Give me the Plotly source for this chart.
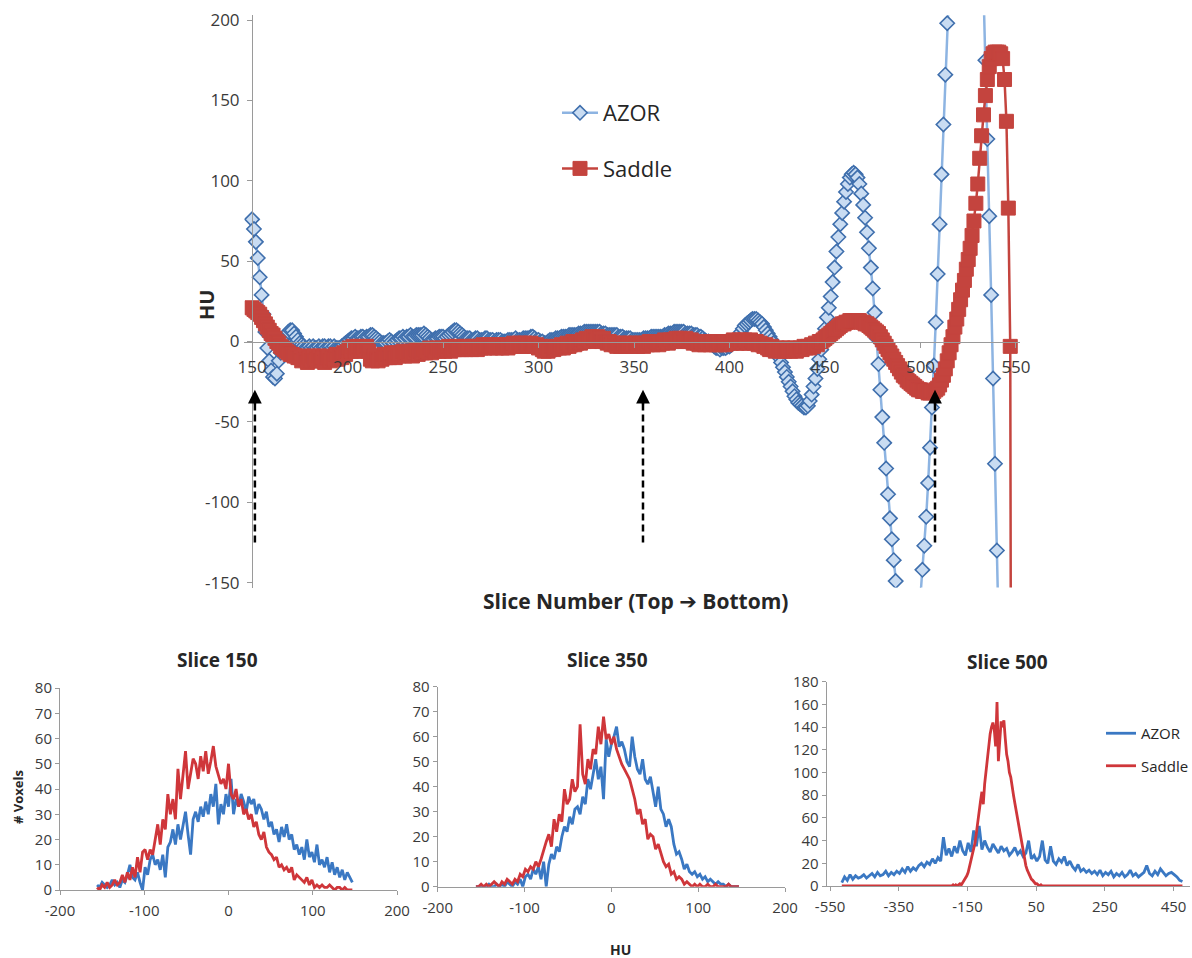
import plotly.graph_objects as go

# ---------------- data ----------------
# Mean HU per slice (slices 150..541 for AZOR, 150..548 for Saddle)
azor_start = 150
azor_hu = [
    76, 70, 62, 52, 40, 29, 17, 6, -4, -12,
    -18, -22, -23, -20, -12, -7, -3, 1, 4, 6,
    7, 7, 5, 3, 1, -1, -2, -3, -4, -4,
    -3, -4, -3, -4, -4, -3, -4, -3, -3, -4,
    -3, -3, -4, -3, -4, -4, -4, -3, -2, -1,
    0, 1, 2, 2, 3, 2, 2, 3, 3, 2,
    3, 3, 4, 4, 3, 2, 1, 0, -1, -1,
    -1, 0, 1, 0, -1, 0, 1, 2, 2, 3,
    2, 3, 3, 4, 3, 3, 4, 4, 4, 4,
    5, 4, 3, 2, 1, 1, 2, 2, 3, 3,
    3, 2, 3, 4, 5, 6, 7, 7, 6, 5,
    4, 3, 2, 2, 2, 1, 1, 2, 2, 1,
    1, 1, 2, 2, 1, 1, 1, 0, 1, 1,
    1, 0, 0, 0, 1, 1, 1, 1, 2, 1,
    1, 1, 2, 2, 2, 2, 3, 3, 2, 1,
    1, 0, 0, -1, -1, 0, 1, 1, 1, 2,
    2, 2, 3, 3, 3, 3, 4, 4, 4, 4,
    4, 5, 5, 5, 6, 6, 6, 6, 6, 6,
    6, 6, 6, 5, 5, 5, 4, 4, 4, 4,
    4, 4, 3, 3, 3, 2, 2, 2, 2, 1,
    1, 1, 1, 1, 1, 2, 2, 2, 2, 3,
    3, 3, 3, 3, 3, 3, 4, 4, 5, 5,
    5, 6, 6, 6, 6, 6, 6, 5, 5, 5,
    5, 4, 4, 4, 3, 3, 2, 1, 0, 0,
    -1, -2, -3, -4, -4, -5, -4, -4, -4, -3,
    -3, -2, -1, 0, 2, 4, 6, 8, 10, 11,
    12, 13, 14, 14, 14, 13, 12, 11, 9, 7,
    5, 3, 1, -1, -4, -7, -10, -13, -16, -19,
    -22, -25, -28, -31, -34, -36, -38, -39, -40, -41,
    -41, -40, -37, -33, -28, -23, -17, -11, -5, 2,
    8, 15, 21, 28, 37, 46, 56, 65, 73, 80,
    87, 93, 98, 102, 104, 105, 104, 102, 98, 92,
    85, 77, 68, 58, 46, 33, 18, 2, -14, -30,
    -47, -63, -79, -95, -110, -123, -136, -149, -162, -174,
    -185, -194, -201, -206, -209, -209, -206, -199, -188, -174,
    -158, -142, -127, -109, -88, -66, -41, -15, 12, 42,
    73, 104, 135, 166, 198, 228, 257, 284, 309, 331,
    350, 366, 378, 386, 390, 388, 382, 372, 358, 340,
    318, 292, 258, 219, 175, 126, 78, 29, -23, -76,
    -130, -184,
]
saddle_start = 150
saddle_hu = [
    21, 20, 19, 18, 17, 15, 13, 11, 9, 7,
    5, 4, 2, 0, -1, -3, -4, -5, -6, -7,
    -8, -8, -9, -9, -10, -10, -12, -9, -11, -13,
    -10, -12, -9, -12, -11, -9, -12, -10, -13, -10,
    -9, -12, -10, -11, -8, -11, -9, -10, -7, -8,
    -6, -4, -6, -3, -6, -4, -3, -6, -4, -5,
    -3, -6, -11, -12, -9, -11, -12, -9, -11, -8,
    -10, -8, -10, -7, -9, -10, -7, -9, -8, -6,
    -9, -7, -8, -6, -9, -7, -5, -8, -6, -7,
    -5, -7, -6, -4, -7, -5, -6, -4, -6, -5,
    -4, -6, -5, -3, -6, -4, -5, -3, -5, -4,
    -5, -3, -5, -4, -3, -5, -3, -4, -5, -3,
    -4, -2, -4, -3, -2, -4, -3, -2, -4, -3,
    -2, -4, -3, -2, -4, -2, -3, -1, -3, -2,
    -1, -3, -2, -1, -3, -2, -1, -2, -3, -2,
    -4, -3, -5, -6, -4, -6, -5, -3, -5, -4,
    -3, -4, -2, -4, -3, -1, -3, -2, 0, -2,
    -1, 0, -1, 1, 0, 2, 1, 0, 3, 2,
    1, 3, 2, 0, 2, 0, -1, 0, -2, -1,
    -2, -3, -1, -3, -2, -1, -3, -2, -1, -3,
    -2, -1, -3, -2, -1, -3, -1, -2, 0, -1,
    -2, 0, -1, -2, 0, -1, 1, 0, -1, 1,
    0, 1, 2, 0, 2, 1, 0, 2, 1, 0,
    1, -1, 0, -1, -2, 0, -1, -2, 0, -1,
    -2, 0, -1, -2, 0, -2, -1, 0, -2, -1,
    0, -1, 1, 0, -1, 1, 0, -1, 1, 0,
    -1, 1, 0, -1, 0, -2, -1, -2, -3, -2,
    -4, -5, -3, -5, -6, -4, -5, -6, -4, -6,
    -5, -4, -6, -5, -4, -6, -5, -4, -5, -3,
    -4, -3, -4, -2, -3, -1, -2, 0, 0, 1,
    2, 3, 4, 5, 6, 7, 8, 9, 10, 11,
    11, 12, 12, 13, 13, 13, 13, 13, 13, 12,
    12, 11, 11, 10, 9, 8, 7, 6, 5, 3,
    1, -1, -3, -5, -7, -9, -11, -13, -15, -17,
    -19, -21, -22, -24, -25, -26, -27, -28, -29, -30,
    -30, -31, -31, -31, -32, -32, -31, -31, -30, -29,
    -27, -24, -21, -17, -12, -7, -2, 3, 9, 14,
    20, 26, 32, 38, 45, 51, 58, 66, 75, 86,
    98, 114, 128, 141, 153, 163, 171, 176, 179, 180,
    180, 180, 179, 176, 163, 137, 83, -3, -600,
]
azor_slices = list(range(azor_start, azor_start + len(azor_hu)))
saddle_slices = list(range(saddle_start, saddle_start + len(saddle_hu)))

# Voxel histograms, slices 150 and 350 (HU bins of 3 starting at -156)
hist_bins = list(range(-156, 150, 3))
azor_150 = [
    2, 1, 3, 2, 1, 2, 4, 2, 3, 1,
    4, 3, 6, 10, 5, 4, 7, 3, 0, 9,
    6, 12, 14, 10, 12, 8, 14, 5, 17, 19,
    24, 18, 26, 20, 25, 31, 22, 14, 28, 31,
    27, 33, 29, 35, 30, 38, 33, 42, 26, 34,
    30, 38, 33, 44, 30, 36, 33, 38, 35, 31,
    37, 34, 36, 30, 34, 32, 28, 31, 25, 27,
    22, 24, 19, 25, 21, 26, 20, 22, 16, 18,
    14, 17, 12, 20, 13, 15, 11, 18, 10, 12,
    9, 13, 7, 11, 6, 9, 5, 8, 4, 7,
    5, 3,
]
saddle_150 = [
    1, 0, 2, 1, 3, 1, 2, 4, 2, 3,
    6, 3, 7, 4, 9, 5, 13, 7, 15, 16,
    12, 16, 14, 20, 26, 18, 28, 24, 38, 30,
    36, 28, 48, 36, 45, 55, 40, 46, 52, 50,
    44, 53, 47, 55, 46, 51, 57, 49, 45, 42,
    44, 40, 50, 38, 36, 40, 33, 36, 30, 32,
    28, 30, 25, 27, 22, 20, 23, 17, 15, 14,
    12, 13, 9, 10, 8, 9, 7, 9, 4, 6,
    5, 4, 3, 5, 2, 4, 1, 2, 1, 2,
    1, 1, 2, 1, 0, 1, 1, 0, 1, 0,
    0, 0,
]
azor_350 = [
    0, 0, 0, 0, 0, 1, 0, 0, 1, 0,
    1, 0, 2, 1, 0, 2, 1, 3, 0, 4,
    5, 3, 7, 5, 8, 3, 10, 0, 9, 13,
    11, 16, 14, 20, 24, 22, 28, 25, 31, 32,
    29, 36, 33, 43, 39, 45, 51, 43, 48, 35,
    59, 52, 57, 60, 64, 56, 58, 55, 50, 48,
    60, 52, 47, 45, 51, 43, 41, 44, 38, 32,
    40, 31, 29, 24, 27, 24, 17, 13, 14, 11,
    7, 9, 6, 5, 6, 4, 5, 3, 4, 2,
    3, 2, 1, 2, 1, 1, 0, 1, 0, 0,
    0, 0,
]
saddle_350 = [
    0, 0, 1, 0, 1, 0, 1, 2, 1, 0,
    2, 1, 3, 2, 1, 3, 2, 5, 4, 7,
    6, 8, 7, 10, 8, 11, 15, 18, 21, 16,
    27, 22, 29, 26, 39, 33, 35, 43, 38, 40,
    65, 45, 41, 51, 47, 55, 53, 64, 57, 68,
    59, 61, 57, 60, 55, 52, 49, 47, 45, 43,
    39, 35, 29, 31, 25, 27, 19, 21, 20, 15,
    17, 13, 10, 8, 9, 5, 6, 3, 4, 3,
    1, 2, 1, 0, 1, 0, 1, 0, 0, 1,
    0, 0, 1, 0, 0, 0, 0, 1, 0, 0,
    0, 0,
]

# Slice 500: AZOR in HU bins of 8 from -516, Saddle mostly around the peak
azor_500_bins = list(range(-516, 480, 8))
azor_500 = [
    3, 8, 5, 10, 6, 9, 7, 8, 10, 7,
    9, 11, 8, 12, 9, 10, 13, 9, 12, 10,
    13, 11, 15, 12, 17, 13, 16, 14, 18, 20,
    17, 21, 19, 24, 20, 25, 22, 43, 27, 33,
    26, 35, 29, 40, 31, 27, 38, 30, 49, 35,
    53, 32, 40, 34, 30, 37, 33, 29, 35, 31,
    33, 27, 30, 34, 28, 31, 26, 29, 40, 24,
    27, 22, 26, 40, 23, 20, 35, 22, 19, 24,
    21, 26, 18, 22, 17, 14, 19, 13, 15, 12,
    14, 11, 13, 10, 14, 9, 12, 10, 13, 8,
    11, 9, 12, 8, 10, 14, 9, 11, 8, 10,
    12, 18, 11, 9, 13, 10, 15, 12, 9, 11,
    12, 10, 8, 5, 4,
]
saddle_500_bins = [-516, -400, -300, -220] + list(range(-204, 76, 4)) + [150, 300, 476]
saddle_500 = [0, 0, 0, 0] + [
    0, 0, 0, 1, 0, 1, 0, 1, 2, 1,
    3, 4, 6, 9, 12, 17, 22, 26, 31, 38,
    47, 58, 66, 75, 83, 72, 90, 102, 108, 120,
    134, 140, 144, 138, 123, 162, 110, 128, 145, 140,
    146, 130, 116, 110, 100, 96, 86, 80, 73, 66,
    60, 52, 45, 36, 30, 24, 18, 14, 11, 8,
    6, 5, 3, 2, 2, 1, 0, 1, 0, 0,
] + [0, 0, 0]

slice_ticks = [150, 200, 250, 300, 350, 400, 450, 500, 550]
hu_ticks = [-150, -100, -50, 0, 50, 100, 150, 200]
hist_ticks = [-200, -100, 0, 100, 200]
hist500_ticks = [-550, -350, -150, 50, 250, 450]
marked_slices = [151.5, 354.7, 507.6]


def labels(vals):
    # plain hyphen for negative numbers
    return [str(v) for v in vals]


# ---------------- styling ----------------
FONT = "'Open Sans', sans-serif"
TXT = "#262626"
TICK = "#3a3a3a"
AXIS = "#9a9a9a"
AZOR_LINE = "#8db4e2"
AZOR_FILL = "#c9dcf2"
AZOR_EDGE = "#3f6fad"
SADDLE = "#c4443e"
H_BLUE = "#3a78c3"
H_RED = "#cf363a"

fig = go.Figure()

fig.add_trace(go.Scatter(
    x=azor_slices, y=azor_hu, name="AZOR", mode="lines+markers",
    line=dict(color=AZOR_LINE, width=2.5),
    marker=dict(symbol="diamond", size=11, color=AZOR_FILL,
                line=dict(color=AZOR_EDGE, width=1.6)),
    xaxis="x", yaxis="y", legend="legend", legendgroup="azor"))
fig.add_trace(go.Scatter(
    x=saddle_slices, y=saddle_hu, name="Saddle", mode="lines+markers",
    line=dict(color=SADDLE, width=2.5),
    marker=dict(symbol="square", size=14, color=SADDLE,
                line=dict(color=SADDLE, width=1)),
    xaxis="x", yaxis="y", legend="legend", legendgroup="saddle"))

hist_sets = [
    ("x2", "y2", hist_bins, azor_150, hist_bins, saddle_150, False),
    ("x3", "y3", hist_bins, azor_350, hist_bins, saddle_350, False),
    ("x4", "y4", azor_500_bins, azor_500, saddle_500_bins, saddle_500, True),
]
for xa, ya, bx, by, rx, ry, show in hist_sets:
    fig.add_trace(go.Scatter(
        x=bx, y=by, name="AZOR", mode="lines",
        line=dict(color=H_BLUE, width=2.8), xaxis=xa, yaxis=ya,
        showlegend=show, legend="legend2", legendgroup="h_azor"))
    fig.add_trace(go.Scatter(
        x=rx, y=ry, name="Saddle", mode="lines",
        line=dict(color=H_RED, width=2.8), xaxis=xa, yaxis=ya,
        showlegend=show, legend="legend2", legendgroup="h_saddle"))

W, H = 1192, 958


def fx(px):
    return px / W


def fy(py):
    return 1 - py / H


main_axis = dict(showline=True, linecolor=AXIS, linewidth=1, showgrid=False,
                 zeroline=False, ticks="outside", ticklen=5, tickcolor=AXIS,
                 tickfont=dict(family=FONT, size=17, color=TICK))
hist_axis = dict(showline=True, linecolor=AXIS, linewidth=1, showgrid=False,
                 zeroline=False, ticks="outside", ticklen=4, tickcolor=AXIS,
                 tickfont=dict(family=FONT, size=15, color=TICK))

fig.update_layout(
    width=W, height=H,
    margin=dict(l=0, r=0, t=0, b=0, autoexpand=False),
    paper_bgcolor="white", plot_bgcolor="white",
    font=dict(family=FONT, color=TXT),
    xaxis=dict(main_axis, domain=[fx(244.4), fx(1019.8)], range=[146, 552],
               anchor="free", position=fy(341.5), tickvals=slice_ticks,
               ticktext=labels(slice_ticks), ticklabelstandoff=5),
    yaxis=dict(main_axis, domain=[fy(587.5), fy(15.2)], range=[-153, 203],
               anchor="free", position=fx(252), tickvals=hu_ticks,
               ticktext=labels(hu_ticks), ticklabelstandoff=4),
    xaxis2=dict(hist_axis, domain=[fx(60), fx(397)], range=[-200, 200],
                anchor="y2", tickvals=hist_ticks, ticktext=labels(hist_ticks),
                ticklabelstandoff=3),
    yaxis2=dict(hist_axis, domain=[fy(890), fy(688)], range=[0, 80],
                anchor="x2", dtick=10),
    xaxis3=dict(hist_axis, domain=[fx(437.7), fx(785)], range=[-200, 200],
                anchor="y3", tickvals=hist_ticks, ticktext=labels(hist_ticks),
                ticklabelstandoff=3),
    yaxis3=dict(hist_axis, domain=[fy(886.7), fy(686.7)], range=[0, 80],
                anchor="x3", dtick=10),
    xaxis4=dict(hist_axis, domain=[fx(826.7), fx(1190)], range=[-560, 498],
                anchor="y4", tickvals=hist500_ticks,
                ticktext=labels(hist500_ticks), ticklabelstandoff=3),
    yaxis4=dict(hist_axis, domain=[fy(886), fy(681.7)], range=[0, 180],
                anchor="x4", dtick=20),
    legend=dict(x=fx(557), y=fy(92), xanchor="left", yanchor="top",
                bgcolor="rgba(0,0,0,0)", borderwidth=0, tracegroupgap=24,
                itemwidth=36,
                font=dict(family=FONT, size=22, color=TXT)),
    legend2=dict(x=fx(1101), y=fy(717), xanchor="left", yanchor="top",
                 bgcolor="rgba(0,0,0,0)", borderwidth=0, tracegroupgap=10,
                 font=dict(family=FONT, size=15, color=TXT)),
    showlegend=True,
)

arrow_glyph = "<span style='font-family:DejaVu Sans'>\u2794</span>"
annotations = [
    dict(text="<b>Slice Number (Top " + arrow_glyph + " Bottom)</b>",
         x=fx(635), y=fy(601), font=dict(size=21)),
    dict(text="<b>HU</b>", x=fx(206), y=fy(305), textangle=-90,
         font=dict(size=20)),
    dict(text="<b>Slice 150</b>", x=fx(217), y=fy(660), font=dict(size=19)),
    dict(text="<b>Slice 350</b>", x=fx(607), y=fy(660), font=dict(size=19)),
    dict(text="<b>Slice 500</b>", x=fx(1007), y=fy(662), font=dict(size=19)),
    dict(text="<b># Voxels</b>", x=fx(18), y=fy(797), textangle=-90,
         font=dict(size=13)),
    dict(text="<b>HU</b>", x=fx(620), y=fy(949), font=dict(size=14)),
]
for a in annotations:
    a.update(xref="paper", yref="paper", showarrow=False,
             xanchor="center", yanchor="middle")

# dashed arrows pointing at the sampled slices
shapes = []
for s in marked_slices:
    shapes.append(dict(type="line", xref="x", yref="y", x0=s, x1=s,
                       y0=-125, y1=-38,
                       line=dict(color="black", width=2.5, dash="7px,4px")))
    annotations.append(dict(x=s, y=-30, ax=s, ay=-40, xref="x", yref="y",
                            axref="x", ayref="y", text="", showarrow=True,
                            arrowhead=2, arrowsize=1.1, arrowwidth=2.5,
                            arrowcolor="black"))

fig.update_layout(annotations=annotations, shapes=shapes)

fig.write_html("out.html")
